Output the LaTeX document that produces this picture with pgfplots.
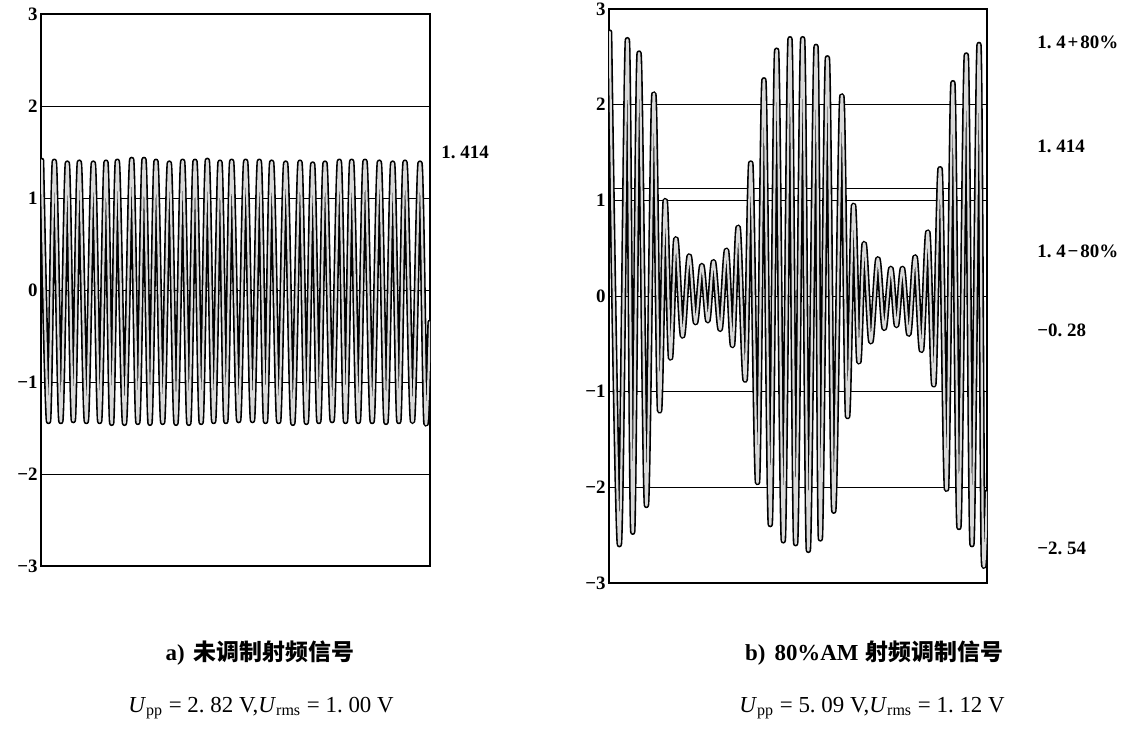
\documentclass[border=0pt]{standalone}
\usepackage{fontspec}
\setmainfont{Liberation Serif}
\newfontfamily\cjk{Noto Sans CJK SC}
\usepackage{pgfplots}
\usepackage{pgfplotstable}
\pgfplotsset{compat=1.18}

\pgfplotstableread{
x y
125 1.41
145.5 -1.43
163 1.40
182.5 -1.43
202 1.38
220 -1.42
238 1.39
259 -1.43
280 1.38
299 -1.43
318 1.39
335 -1.45
352 1.40
373.5 -1.45
395 1.42
413.5 -1.44
432 1.42
450 -1.45
468 1.40
488 -1.44
508 1.38
528 -1.45
548 1.40
566.5 -1.45
585 1.40
603.5 -1.44
622 1.41
641 -1.43
660 1.39
677.5 -1.43
695 1.40
716 -1.42
737 1.40
757.5 -1.42
778 1.40
796.5 -1.43
815 1.39
836 -1.43
857 1.38
878.5 -1.45
900 1.39
919 -1.44
938 1.37
956.5 -1.43
975 1.38
996.5 -1.42
1018 1.40
1036.5 -1.43
1055 1.40
1075 -1.43
1095 1.40
1116.5 -1.43
1138 1.39
1158 -1.44
1178 1.38
1196.5 -1.43
1215 1.39
1237.5 -1.43
1260 1.38
1277 -1.43
1290 -0.35
}\leftdata

\pgfplotstableread{
x y
150 2.76
179 -2.60
203 2.68
219 -2.47
238 2.54
260 -2.19
282 2.11
299 -1.20
316 1.00
332 -0.65
348 0.60
368 -0.42
388 0.42
407 -0.28
426 0.32
444 -0.26
461 0.36
481 -0.35
500 0.48
518 -0.52
535 0.72
556 -0.88
573 1.39
593 -1.95
612 2.26
631 -2.39
650 2.57
670 -2.56
690 2.69
707 -2.59
728 2.69
745 -2.66
768 2.61
781 -2.54
802 2.49
821 -2.25
845 2.09
862 -1.26
880 0.95
896 -0.69
912 0.55
932 -0.48
953 0.39
972 -0.34
992 0.29
1009 -0.31
1027 0.29
1046 -0.40
1065 0.41
1084 -0.57
1103 0.67
1121 -0.93
1140 1.33
1159 -2.02
1178 2.23
1196 -2.42
1218 2.52
1235 -2.60
1256 2.63
1268 -2.64
1280 -2.05
}\rightdata

\begin{document}
\begin{tikzpicture}
\useasboundingbox (0,0) rectangle (564.5bp,367.5bp);
\pgfplotsset{
  wavebox/.style={
    scale only axis, anchor=south west,
    ymin=-3, ymax=3,
    ytick={-3,-2,-1,0,1,2,3},
    yticklabels={−3,−2,−1,0,1,2,3},
    xtick=\empty, major tick length=0pt,
    ymajorgrids, grid style={black, line width=0.5pt},
    axis line style={black, line width=0.7pt},
    yticklabel style={font=\bfseries\fontsize{9.5}{10}\selectfont, inner sep=1.5pt},
    clip=true,
  },
  outer/.style={black, line width=2.7pt, smooth, line join=round, line cap=round},
  inner/.style={white!85!black, line width=1.1pt, smooth, line join=round, line cap=round},
}
\begin{axis}[wavebox, at={(20.5bp,84.5bp)}, width=194.5bp, height=276bp, xmin=123, xmax=1290]
\addplot[outer] table {\leftdata};
\addplot[inner] table {\leftdata};
\end{axis}
\begin{axis}[wavebox, at={(304.5bp,76bp)}, width=189bp, height=287bp, xmin=148, xmax=1280]
\addplot[black, line width=0.5pt] coordinates {(148,1.12) (1280,1.12)};
\addplot[outer] table {\rightdata};
\addplot[inner] table {\rightdata};
\end{axis}
\tikzset{lab/.style={anchor=west, inner sep=0pt, font=\bfseries\fontsize{9.5}{10}\selectfont}}
\node[lab] at (220.5bp,291.5bp) {1.\hspace{0.25em}414};
\node[lab] at (518.5bp,346.5bp) {1.\hspace{0.25em}4\hspace{0.1em}+\hspace{0.1em}80\%};
\node[lab] at (518.5bp,294.5bp) {1.\hspace{0.25em}414};
\node[lab] at (518.5bp,242bp) {1.\hspace{0.25em}4\hspace{0.1em}−\hspace{0.1em}80\%};
\node[lab] at (518.5bp,202.5bp) {−0.\hspace{0.25em}28};
\node[lab] at (518.5bp,93.5bp) {−2.\hspace{0.25em}54};
\node[inner sep=0pt, font=\fontsize{11.5}{12}\selectfont] at (130bp,41bp) {\textbf{a)}\hspace{0.4em}{\cjk\bfseries 未调制射频信号}};
\node[inner sep=0pt, font=\fontsize{11.5}{12}\selectfont] at (437bp,41bp) {\textbf{b)}\hspace{0.4em}\textbf{80\%AM}\hspace{0.3em}{\cjk\bfseries 射频调制信号}};
\node[inner sep=0pt, font=\fontsize{11.5}{12}\selectfont] at (130.5bp,13.5bp) {\textit{U}\textsubscript{pp}\hspace{0.25em}=\hspace{0.25em}2.\hspace{0.25em}82 V,\textit{U}\textsubscript{rms}\hspace{0.25em}=\hspace{0.25em}1.\hspace{0.25em}00 V};
\node[inner sep=0pt, font=\fontsize{11.5}{12}\selectfont] at (436bp,13.5bp) {\textit{U}\textsubscript{pp}\hspace{0.25em}=\hspace{0.25em}5.\hspace{0.25em}09 V,\textit{U}\textsubscript{rms}\hspace{0.25em}=\hspace{0.25em}1.\hspace{0.25em}12 V};
\end{tikzpicture}
\end{document}
